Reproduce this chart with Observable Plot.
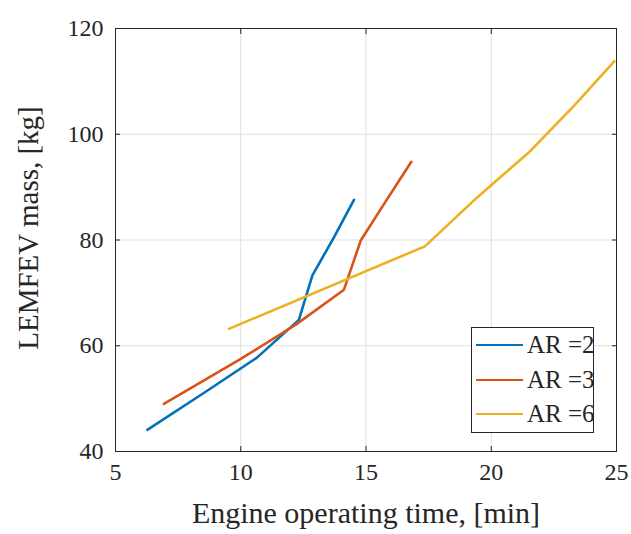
<!DOCTYPE html>
<html>
<head>
<meta charset="utf-8">
<script src="https://cdn.jsdelivr.net/npm/d3@7"></script>
<script src="https://cdn.jsdelivr.net/npm/@observablehq/plot@0.6"></script>
<style>
  body { margin: 0; background: #fff; }
  #wrap { position: relative; width: 631px; height: 534px; overflow: hidden; font-family: "Liberation Serif", serif; }
  #legend { position: absolute; left: 471px; top: 327px; width: 123px; height: 106px; background: #fff; border: 1px solid #262626; box-sizing: border-box; }
  .row { position: absolute; left: 0; height: 30px; display: flex; align-items: center; white-space: nowrap; }
  .row .sw { flex: none; width: 47px; height: 0; border-top: 2.6px solid; margin-left: 4px; margin-right: 4px; }
  .row span { font-size: 25px; color: #262626; white-space: nowrap; }
</style>
</head>
<body>
<div id="wrap"><div id="chart"></div><div id="legend"></div></div>
<script>
const seriesNames = ["AR =2", "AR =3", "AR =6"];
const seriesColors = ["#0072BD", "#D95319", "#EDB120"];
const ar2Time = [6.27, 8.60, 10.66, 12.32, 12.86, 13.72, 14.52];
const ar2Mass = [44.1, 51.3, 57.8, 64.9, 73.3, 80.5, 87.6];
const ar3Time = [6.93, 10.0, 12.2, 14.12, 14.79, 15.8, 16.81];
const ar3Mass = [49.0, 57.5, 64.0, 70.6, 79.9, 87.4, 94.8];
const ar6Time = [9.53, 17.35, 19.45, 21.51, 23.31, 24.91];
const ar6Mass = [63.2, 78.8, 88.1, 96.6, 105.4, 113.8];
const xTicks = [5, 10, 15, 20, 25];
const yTicks = [40, 60, 80, 100, 120];
const xLabel = "Engine operating time, [min]";
const yLabel = "LEMFEV mass, [kg]";

const series = [[ar2Time, ar2Mass], [ar3Time, ar3Mass], [ar6Time, ar6Mass]];
const rows = series.flatMap(([t, m], i) => t.map((v, j) => ({time: v, mass: m[j], s: seriesNames[i]})));

const ink = "#262626";
const chart = Plot.plot({
  width: 631, height: 534,
  marginLeft: 115, marginRight: 15, marginTop: 28, marginBottom: 83,
  style: {fontFamily: "Liberation Serif, serif", color: ink, background: "#fff"},
  x: {domain: [5, 25], ticks: xTicks},
  y: {domain: [40, 120], ticks: yTicks},
  color: {domain: seriesNames, range: seriesColors},
  marks: [
    Plot.gridX(xTicks, {stroke: "#dedede", strokeOpacity: 1}),
    Plot.gridY(yTicks, {stroke: "#dedede", strokeOpacity: 1}),
    Plot.axisX(xTicks, {anchor: "bottom", tickSize: -5, tickPadding: 16, fontSize: 24, label: null, stroke: ink}),
    Plot.axisX(xTicks, {anchor: "top", tickSize: -5, tickFormat: () => "", label: null, stroke: ink}),
    Plot.axisY(yTicks, {anchor: "left", tickSize: -5, tickPadding: 17, fontSize: 24, label: null, stroke: ink}),
    Plot.axisY(yTicks, {anchor: "right", tickSize: -5, tickFormat: () => "", label: null, stroke: ink}),
    Plot.line(rows, {x: "time", y: "mass", stroke: "s", z: "s", strokeWidth: 2.6, strokeLinejoin: "round"}),
    Plot.frame({stroke: ink, strokeWidth: 1}),
    Plot.text([xLabel], {text: d => d, frameAnchor: "bottom", dy: 71, fontSize: 30, letterSpacing: 0.8, fill: ink}),
    Plot.text([yLabel], {text: d => d, frameAnchor: "left", textAnchor: "middle", rotate: -90, dx: -87, dy: -12, fontSize: 29, fill: ink})
  ]
});
document.getElementById("chart").appendChild(chart);

const legend = document.getElementById("legend");
const rowTops = [2, 37, 71];
seriesNames.forEach((name, i) => {
  const r = document.createElement("div");
  r.className = "row";
  r.style.top = rowTops[i] + "px";
  r.innerHTML = `<div class="sw" style="border-color:${seriesColors[i]}"></div><span>${name}</span>`;
  legend.appendChild(r);
});
</script>
</body>
</html>
